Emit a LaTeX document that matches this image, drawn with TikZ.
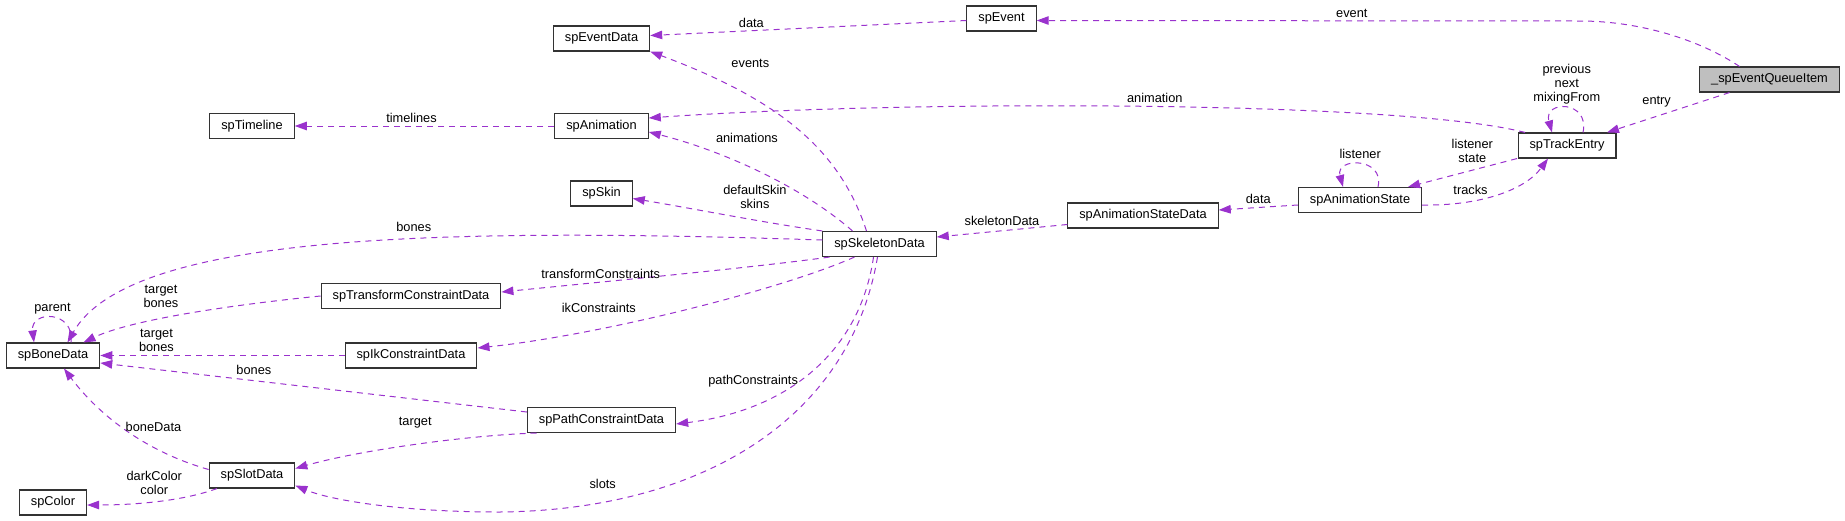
\documentclass[tikz,border=0pt]{standalone}
\usepackage{fontspec}
\setmainfont{Liberation Sans}
\usepackage{xcolor}
\usepackage{tikz}
\usetikzlibrary{arrows.meta,positioning,calc}
\definecolor{edgecol}{HTML}{9A32CD}

\begin{document}
\begin{tikzpicture}[
    x=1pt, y=1pt, on grid,
    box/.style={rectangle, draw=black!80, line width=1.1pt, fill=white, minimum height=25pt, inner xsep=11.5pt, inner ysep=2pt, font=\fontsize{12.8}{14}\selectfont},
    focus/.style={box, fill=black!25},
    arrow/.style={->, >={Triangle[length=12pt, width=8.5pt]}, dash pattern=on 6pt off 5pt, line width=1pt, color=edgecol},
    lbl/.style={inner sep=3pt, text=black, align=center, font=\fontsize{12.8}{14}\selectfont}
]
\useasboundingbox (0,0) rectangle (1845,-520);

% Central node
\node[box] (skeleton) at (879.5,-244) {spSkeletonData};

% Animation state chain up to the queue item
\node[box, above right=28.5pt and 263.5pt of skeleton] (stateData) {spAnimationStateData};
\node[box, above right=15.5pt and 217pt of stateData] (animState) {spAnimationState};
\node[box, above right=54.5pt and 207pt of animState] (trackEntry) {spTrackEntry};
\node[focus, above right=66pt and 202.5pt of trackEntry] (queue) {\_spEventQueueItem};
\node[box, above right=225.5pt and 122pt of skeleton] (event) {spEvent};

% Column of data types left of the skeleton
\node[box, below left=20pt and 400pt of event] (eventData) {spEventData};
\node[box, below=87.5pt of eventData] (animation) {spAnimation};
\node[box, below=67.5pt of animation] (skin) {spSkin};
\node[box, below=226.5pt of skin] (pathData) {spPathConstraintData};
\node[box, left=349.5pt of animation] (timeline) {spTimeline};
\node[box, below left=102.5pt and 190.5pt of skin] (transform) {spTransformConstraintData};
\node[box, below=59.5pt of transform] (ik) {spIkConstraintData};

% Bones, slots and colours
\node[box, left=358pt of ik] (boneData) {spBoneData};
\node[box, below=349.5pt of timeline] (slotData) {spSlotData};
\node[box, below=147pt of boneData] (color) {spColor};

% Edges from the queue item
\draw[arrow] ([xshift=-30pt]queue.north) .. controls (1700,-40) and (1640,-21) .. (1580,-21) -- ([yshift=-2pt]event.east) node[lbl, above, pos=.42] (lEvent) {event};
\draw[arrow] ([xshift=-40pt]queue.south) -- ([xshift=40pt]trackEntry.north) node[lbl, above left, pos=.45] (lEntry) {entry};
\draw[arrow] ([yshift=-2pt]event.west) -- ([yshift=3pt]eventData.east) node[lbl, above, pos=.68] (lData) {data};

% Track entry and animation state
\draw[arrow] ([xshift=16pt]trackEntry.north) .. controls (1590,-100) and (1543,-100) .. ([xshift=-15pt]trackEntry.north) node[lbl, above, pos=.5] (lPrev) {previous\\next\\mixingFrom};
\draw[arrow] ([xshift=-42pt]trackEntry.north) .. controls (1400,-100) and (900,-100) .. ([yshift=8pt]animation.east) node[lbl, above, pos=.48] (lAnimation) {animation};
\draw[arrow] ([xshift=-50pt]trackEntry.south) -- ([xshift=48pt]animState.north) node[lbl, above=4pt, pos=.41] (lListener) {listener\\state};
\draw[arrow] ([yshift=-5pt]animState.east) .. controls (1480,-206) and (1525,-190) .. ([xshift=-19pt]trackEntry.south) node[lbl, above=3pt, pos=.3] (lTracks) {tracks};
\draw[arrow] ([xshift=18pt]animState.north) .. controls (1385,-157) and (1335,-157) .. ([xshift=-17pt]animState.north) node[lbl, above=2pt, pos=.5] (lSelf) {listener};
\draw[arrow] ([yshift=-5pt]animState.west) -- ([yshift=5.5pt]stateData.east) node[lbl, above, pos=.5] (lStateData) {data};
\draw[arrow] ([yshift=-9pt]stateData.west) -- ([yshift=7pt]skeleton.east) node[lbl, above=2pt, pos=.5] (lSkeleton) {skeletonData};

% Edges from the skeleton data
\draw[arrow] ([xshift=-13pt]skeleton.north) .. controls (840,-150) and (780,-100) .. (eventData.south east) node[lbl, above right, xshift=8pt, yshift=10pt, pos=.8] (lEvents) {events};
\draw[arrow] ([xshift=-27pt]skeleton.north) .. controls (800,-185) and (720,-150) .. ([yshift=-6pt]animation.east) node[lbl, above=20pt, pos=.55] (lAnimations) {animations};
\draw[arrow] (skeleton.north west) .. controls (760,-222) and (690,-208) .. ([yshift=-5pt]skin.east) node[lbl, above=8pt, pos=.35] (lSkins) {defaultSkin\\skins};
\draw[arrow] ([yshift=4pt]skeleton.west) .. controls (450,-228) and (130,-232) .. ([xshift=14.5pt]boneData.north) node[lbl, above=4pt, pos=.4] (lBones) {bones};
\draw[arrow] ([xshift=-50pt]skeleton.south) .. controls (750,-268) and (600,-282) .. ([yshift=4pt]transform.east) node[lbl, above, pos=.7] (lTransform) {transformConstraints};
\draw[arrow] ([xshift=-25pt]skeleton.south) .. controls (780,-290) and (600,-335) .. ([yshift=7.5pt]ik.east) node[lbl, above=13pt, pos=.7] (lIk) {ikConstraints};
\draw[arrow] ([xshift=-6pt]skeleton.south) .. controls (860,-350) and (790,-410) .. ([yshift=-4pt]pathData.east) node[lbl, above=14pt, pos=.75] (lPath) {pathConstraints};
\draw[arrow] ([xshift=-2pt]skeleton.south) .. controls (850,-420) and (700,-510) .. (500,-512) node[lbl, above=10.5pt, pos=.82] (lSlots) {slots} .. controls (400,-512) and (330,-500) .. ([yshift=-10pt]slotData.east);

% Edges into the bone data
\draw[arrow] (transform.west) .. controls (230,-305) and (130,-320) .. ([xshift=30.5pt]boneData.north) node[lbl, above=8pt, pos=.6] (lTransBones) {target\\bones};
\draw[arrow] (ik.west) -- (boneData.east) node[lbl, above, pos=.77] (lIkBones) {target\\bones};
\draw[arrow] ([yshift=8pt]pathData.west) -- ([yshift=-7.5pt]boneData.east) node[lbl, above=3pt, pos=.64] (lPathBones) {bones};
\draw[arrow] ([xshift=-65pt]pathData.south) .. controls (470,-435) and (360,-450) .. ([yshift=7pt]slotData.east) node[lbl, above=13pt, pos=.5] (lTarget) {target};
\draw[arrow] ([yshift=6pt]slotData.west) .. controls (140,-450) and (95,-410) .. ([xshift=11pt]boneData.south) node[lbl, right, pos=.5] (lBoneData) {boneData};
\draw[arrow] ([xshift=-35pt]slotData.south) .. controls (180,-502) and (130,-505) .. ([yshift=-2.5pt]color.east) node[lbl, above=4pt, pos=.5] (lColor) {darkColor\\color};
\draw[arrow] ([xshift=18pt]boneData.north) .. controls (75,-310) and (30,-310) .. ([xshift=-19pt]boneData.north) node[lbl, above, pos=.5] (lParent) {parent};
\draw[arrow] (animation.west) -- (timeline.east) node[lbl, above, pos=.55] (lTimelines) {timelines};

\end{tikzpicture}
\end{document}
